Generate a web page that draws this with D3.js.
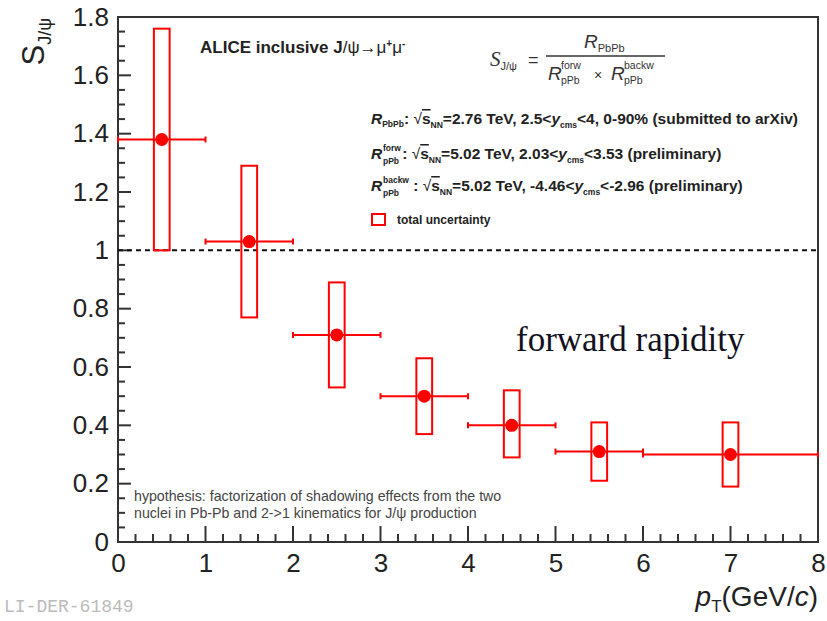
<!DOCTYPE html>
<html>
<head>
<meta charset="utf-8">
<script src="https://cdnjs.cloudflare.com/ajax/libs/d3/7.8.5/d3.min.js"></script>
<style>
  body { margin: 0; background: #fff; }
  svg { display: block; }
  .sans { font-family: "Liberation Sans", Arial, Helvetica, sans-serif; }
</style>
</head>
<body>
<div id="chart"></div>
<script>
// data
var ptCenters = [0.5, 1.5, 2.5, 3.5, 4.5, 5.5, 7];
var ptLow     = [0, 1, 2, 3, 4, 5, 6];
var ptHigh    = [1, 2, 3, 4, 5, 6, 8];
var sValues   = [1.38, 1.03, 0.71, 0.50, 0.40, 0.31, 0.30];
var uncLow    = [1.00, 0.77, 0.53, 0.37, 0.29, 0.21, 0.19];
var uncHigh   = [1.76, 1.29, 0.89, 0.63, 0.52, 0.41, 0.41];
var xTicks = [0, 1, 2, 3, 4, 5, 6, 7, 8];
var yTicks = [0, 0.2, 0.4, 0.6, 0.8, 1, 1.2, 1.4, 1.6, 1.8];

var width = 827,
	height = 621,
	padL = 118, padR = 818,
	padT = 17, padB = 542;

var red = '#ff0000',
	frameCol = '#333';

var svg = d3.select('#chart').append('svg')
		.attr('width', width)
		.attr('height', height)
		.attr('class', 'sans');

var x = d3.scaleLinear().domain([0, 8]).range([padL, padR]);
var y = d3.scaleLinear().domain([0, 1.8]).range([padB, padT]);

// tick marks as small filled rects inside the frame
var xMinor = d3.range(1, 40).map(function(i) { return i * 0.2; }).filter(function(v, i) { return (i + 1) % 5 !== 0; });
var yMinor = d3.range(1, 36).map(function(i) { return i * 0.05; }).filter(function(v, i) { return (i + 1) % 4 !== 0; });

var xTickData = xTicks.map(function(v) { return { v: v, len: 16 }; })
	.concat(xMinor.map(function(v) { return { v: v, len: 8 }; }));
var yTickData = yTicks.map(function(v) { return { v: v, len: 13 }; })
	.concat(yMinor.map(function(v) { return { v: v, len: 7 }; }));

var tickG = svg.append('g').attr('class', 'ticks').attr('fill', frameCol);
tickG.selectAll('rect.xtick').data(xTickData).enter().append('rect')
	.attr('class', 'xtick')
	.attr('x', function(d) { return x(d.v) - 1; })
	.attr('y', function(d) { return padB - d.len; })
	.attr('width', 2)
	.attr('height', function(d) { return d.len; });
tickG.selectAll('rect.ytick').data(yTickData).enter().append('rect')
	.attr('class', 'ytick')
	.attr('x', padL)
	.attr('y', function(d) { return y(d.v) - 1; })
	.attr('width', function(d) { return d.len; })
	.attr('height', 2);

// frame
svg.append('rect')
	.attr('x', padL).attr('y', padT)
	.attr('width', padR - padL).attr('height', padB - padT)
	.attr('fill', 'none')
	.attr('stroke', frameCol)
	.attr('stroke-width', 2);

// tick labels through d3 axes
var xAxis = svg.append('g')
	.attr('transform', 'translate(0,' + padB + ')')
	.call(d3.axisBottom(x).tickValues(xTicks).tickSize(0).tickPadding(12).tickFormat(d3.format('d')));
var yAxis = svg.append('g')
	.attr('transform', 'translate(' + padL + ',0)')
	.call(d3.axisLeft(y).tickValues(yTicks).tickSize(0).tickPadding(9)
		.tickFormat(function(d) { return d === 0 || d === 1 ? d3.format('d')(d) : d3.format('.1f')(d); }));

[xAxis, yAxis].forEach(function(a) {
	a.select('.domain').remove();
	a.selectAll('.tick line').remove();
	a.selectAll('text')
		.attr('font-family', '"Liberation Sans", Arial, sans-serif')
		.attr('font-size', 26)
		.attr('fill', '#222');
});

// dashed line at 1
svg.append('line')
	.attr('x1', x(0)).attr('x2', x(8))
	.attr('y1', y(1)).attr('y2', y(1))
	.attr('stroke', '#111')
	.attr('stroke-width', 2)
	.attr('stroke-dasharray', '5,4');

var points = ptCenters.map(function(c, i) {
	return { pt: c, lo: ptLow[i], hi: ptHigh[i], s: sValues[i], uLo: uncLow[i], uHi: uncHigh[i] };
});
var boxHalf = 0.09;

var marks = svg.append('g').attr('class', 'marks');

marks.selectAll('.unc').data(points).enter().append('rect')
	.attr('class', 'unc')
	.attr('x', function(d) { return x(d.pt - boxHalf); })
	.attr('y', function(d) { return y(d.uHi); })
	.attr('width', function(d) { return x(d.pt + boxHalf) - x(d.pt - boxHalf); })
	.attr('height', function(d) { return y(d.uLo) - y(d.uHi); })
	.attr('fill', 'none')
	.attr('stroke', red)
	.attr('stroke-width', 2);

marks.selectAll('.xerr').data(points).enter().append('line')
	.attr('class', 'xerr')
	.attr('x1', function(d) { return x(d.lo); })
	.attr('x2', function(d) { return x(d.hi); })
	.attr('y1', function(d) { return y(d.s); })
	.attr('y2', function(d) { return y(d.s); })
	.attr('stroke', red)
	.attr('stroke-width', 2);

// end caps
var caps = [];
points.forEach(function(d) { caps.push({ v: d.lo, s: d.s }); caps.push({ v: d.hi, s: d.s }); });
marks.selectAll('.cap').data(caps).enter().append('line')
	.attr('class', 'cap')
	.attr('x1', function(d) { return x(d.v); })
	.attr('x2', function(d) { return x(d.v); })
	.attr('y1', function(d) { return y(d.s) - 3; })
	.attr('y2', function(d) { return y(d.s) + 3; })
	.attr('stroke', red)
	.attr('stroke-width', 2);

marks.selectAll('.pt').data(points).enter().append('circle')
	.attr('class', 'pt')
	.attr('cx', function(d) { return x(d.pt); })
	.attr('cy', function(d) { return y(d.s); })
	.attr('r', 6.5)
	.attr('fill', red);

// axis titles
var yTitle = svg.append('text')
	.attr('transform', 'translate(44,18) rotate(-90)')
	.attr('text-anchor', 'end')
	.attr('font-size', 31)
	.attr('fill', '#222');
yTitle.append('tspan').text('S');
yTitle.append('tspan').attr('font-size', 18).attr('dy', 7).text('J/ψ');

var xTitle = svg.append('text')
	.attr('x', padR).attr('y', 606)
	.attr('text-anchor', 'end')
	.attr('font-size', 28)
	.attr('fill', '#222');
xTitle.append('tspan').attr('font-style', 'italic').text('p');
xTitle.append('tspan').attr('font-size', 17).attr('dy', 6).text('T');
xTitle.append('tspan').attr('dy', -6).text('(GeV/');
xTitle.append('tspan').attr('font-style', 'italic').text('c');
xTitle.append('tspan').text(')');

// title
var title = svg.append('text')
	.attr('x', 200).attr('y', 53)
	.attr('font-size', 17)
	.attr('font-weight', 'bold')
	.attr('fill', '#222');
title.append('tspan').text('ALICE inclusive J');
title.append('tspan').attr('font-weight', 'normal').text('/ψ→μ');
title.append('tspan').attr('font-size', 10).attr('dy', -6).text('+');
title.append('tspan').attr('font-weight', 'normal').attr('dy', 6).text('μ');
title.append('tspan').attr('font-size', 10).attr('dy', -6).text('-');

// formula
var f = svg.append('g').attr('fill', '#333');
var fs = f.append('text').attr('x', 490).attr('y', 66).attr('font-size', 21)
	.attr('font-family', '"Liberation Serif", serif').attr('font-style', 'italic');
fs.append('tspan').text('S');
fs.append('tspan').attr('font-size', 11).attr('dy', 4).attr('font-style', 'normal')
	.attr('font-family', '"Liberation Sans", sans-serif').text('J/ψ');
f.append('text').attr('x', 528).attr('y', 66).attr('font-size', 18).text('=');
f.append('line').attr('x1', 546).attr('x2', 665).attr('y1', 56).attr('y2', 56)
	.attr('stroke', '#333').attr('stroke-width', 1.5);
var fn = f.append('text').attr('x', 584).attr('y', 48).attr('font-size', 19);
fn.append('tspan').attr('font-style', 'italic').text('R');
fn.append('tspan').attr('font-size', 11).attr('dy', 4).text('PbPb');
f.append('text').attr('x', 548).attr('y', 80).attr('font-size', 19).attr('font-style', 'italic').text('R');
f.append('text').attr('x', 561).attr('y', 69).attr('font-size', 10.5).text('forw');
f.append('text').attr('x', 561).attr('y', 84).attr('font-size', 10.5).text('pPb');
f.append('text').attr('x', 594).attr('y', 80).attr('font-size', 14).text('×');
f.append('text').attr('x', 611).attr('y', 80).attr('font-size', 19).attr('font-style', 'italic').text('R');
f.append('text').attr('x', 624).attr('y', 69).attr('font-size', 10.5).text('backw');
f.append('text').attr('x', 624).attr('y', 84).attr('font-size', 10.5).text('pPb');

// legend lines
var legend = svg.append('g').attr('fill', '#222').attr('font-size', 15.5).attr('font-weight', 'bold');
function legendLine(yy, sup, sub, rest) {
	var t = legend.append('text').attr('x', 371).attr('y', yy);
	t.append('tspan').attr('font-style', 'italic').attr('font-size', 15.5).text('R');
	if (sup) {
		legend.append('text').attr('x', 383).attr('y', yy - 8).attr('font-size', 8.5).text(sup);
		legend.append('text').attr('x', 383).attr('y', yy + 5).attr('font-size', 8.5).text(sub);
		t.append('tspan').attr('dx', sup.length > 4 ? 31 : 20).text(': ');
	} else {
		t.append('tspan').attr('font-size', 8.5).attr('dy', 3).text(sub);
		t.append('tspan').attr('dy', -3).text(': ');
	}
	t.append('tspan').attr('font-weight', 'normal').text('√');
	t.append('tspan').attr('style', 'text-decoration: overline').text('s');
	t.append('tspan').attr('font-size', 8.5).attr('dy', 4).text('NN');
	t.append('tspan').attr('dy', -4).text(rest[0]);
	t.append('tspan').attr('font-style', 'italic').text('y');
	t.append('tspan').attr('font-size', 8.5).attr('dy', 4).text('cms');
	t.append('tspan').attr('dy', -4).text(rest[1]);
}
legendLine(124, null, 'PbPb', ['=2.76 TeV, 2.5<', '<4, 0-90% (submitted to arXiv)']);
legendLine(159, 'forw', 'pPb', ['=5.02 TeV, 2.03<', '<3.53 (preliminary)']);
legendLine(191, 'backw', 'pPb', ['=5.02 TeV, -4.46<', '<-2.96 (preliminary)']);

legend.append('rect')
	.attr('x', 372).attr('y', 214)
	.attr('width', 13).attr('height', 11)
	.attr('fill', 'none').attr('stroke', red).attr('stroke-width', 2);
legend.append('text').attr('x', 397).attr('y', 224).attr('font-size', 12).text('total uncertainty');

// annotation
svg.append('text')
	.attr('x', 516).attr('y', 351)
	.attr('font-family', '"Liberation Serif", "Times New Roman", serif')
	.attr('font-size', 35)
	.attr('fill', '#111122')
	.text('forward rapidity');

var hyp = svg.append('g').attr('fill', '#444').attr('font-size', 14.2);
hyp.append('text').attr('x', 134).attr('y', 501).text('hypothesis: factorization of shadowing effects from the two');
hyp.append('text').attr('x', 134).attr('y', 518).text('nuclei in Pb-Pb and 2->1 kinematics for J/ψ production');

svg.append('text')
	.attr('x', 4).attr('y', 612)
	.attr('font-family', '"Liberation Mono", "Courier New", monospace')
	.attr('font-size', 18)
	.attr('fill', '#bbb')
	.text('LI-DER-61849');
</script>
</body>
</html>
